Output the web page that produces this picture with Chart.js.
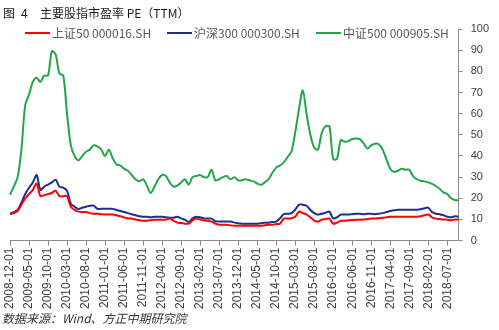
<!DOCTYPE html>
<html>
<head>
<meta charset="utf-8">
<script src="https://cdn.jsdelivr.net/npm/chart.js@4.4.1/dist/chart.umd.min.js"></script>
<style>
  html, body { margin: 0; padding: 0; background: #fff; }
  canvas { display: block; }
</style>
</head>
<body>
<canvas id="peChart" width="499" height="330"></canvas>
<script>
// monthly PE(TTM), 2008-12 .. 2018-10
const startYear = 2008, startMonth = 12, monthCount = 119;

const tickLabels = [
    '2008-12-01', '2009-05-01', '2009-10-01', '2010-03-01', '2010-08-01', '2011-01-01',
    '2011-06-01', '2011-11-01', '2012-04-01', '2012-09-01', '2013-02-01', '2013-07-01',
    '2013-12-01', '2014-05-01', '2014-10-01', '2015-03-01', '2015-08-01', '2016-01-01',
    '2016-06-01', '2016-11-01', '2017-04-01', '2017-09-01', '2018-02-01', '2018-07-01'
];

const sz50 = [
    12.5, 13, 14, 17, 20, 22, 24, 27, 21, 21.5, 22, 22.5, 23.6, 21, 21, 21, 16, 14.5, 13.7, 13.5,
    13.5, 13, 12.7, 12.7, 12.5, 12.3, 12.3, 12.3, 12, 11.5, 11, 10.5, 10.4, 10, 9.6, 9.4, 9.4, 9.6, 9.9, 9.9,
    9.9, 9.9, 10.4, 9.4, 8.5, 8.3, 8, 8, 9.5, 10.4, 10, 9.5, 9.4, 9, 8, 7.5, 7.5, 7.5, 7.2, 7,
    7, 7, 7, 7, 7, 7, 7, 7.3, 7.5, 7.5, 7.8, 8, 10.4, 10.4, 10.6, 11.3, 13.7, 13, 12.3, 11,
    9.5, 9, 9.9, 10.2, 10.4, 8, 8.5, 9.4, 9.4, 9.6, 9.8, 9.9, 9.9, 10, 10.2, 10.4, 10.4, 10.6, 10.8, 11,
    11.3, 11.3, 11.3, 11.3, 11.3, 11.3, 11.3, 11.3, 11.5, 12, 12.3, 11, 10.4, 10.2, 10, 9.9, 9.6, 10, 9.9
];

const hs300 = [
    12.7, 13.5, 14.5, 18, 22, 25, 27.5, 31, 24, 25.5, 26.5, 27.5, 28.8, 25.5, 25, 23.5, 17.5, 16, 15, 15.5,
    16, 16.5, 16.5, 15, 15, 15, 15, 15, 14.5, 14, 13.5, 13, 12.5, 12, 11.5, 11.3, 11.3, 11, 11.3, 11.3,
    11.3, 11, 10.8, 10.8, 11.3, 10.5, 9.9, 8.8, 10.5, 11.3, 11, 10.5, 10.4, 10.4, 9.2, 9, 9, 9, 9, 8.5,
    8.2, 8, 8, 8, 8, 8, 8.2, 8.5, 8.5, 8.8, 9, 10.5, 12.5, 12.7, 13, 14.6, 17, 17, 16.5, 14.5,
    13, 12.3, 12.7, 13.2, 13.7, 10.5, 11, 12.3, 12.3, 12.3, 12.5, 12.7, 12.7, 12.5, 12.7, 12.7, 12.5, 12.7, 13, 13.5,
    14, 14.3, 14.6, 14.6, 14.6, 14.6, 14.6, 14.6, 14.8, 15.3, 15.6, 13.5, 12.7, 12.5, 12, 11.3, 11, 11.5, 11.3
];

const zz500 = [
    21.7, 25.5, 30, 43, 64, 69, 75, 77, 75, 78, 78, 89.5, 88, 79, 78, 60, 45, 40, 38, 40,
    42, 43, 45, 44.5, 43, 40, 43, 39, 36, 35.5, 34, 33, 31, 29, 28, 29, 26, 22.5, 25.5, 29,
    31, 30.5, 27.5, 25.5, 26, 27.5, 29, 26.4, 30, 30.5, 31, 30, 30, 33.5, 28.5, 29, 30, 30.5, 29, 30,
    28.5, 28.5, 29, 28.5, 28, 27, 26.4, 27.5, 29, 32, 34.5, 35.5, 37, 39.5, 42, 51, 62, 71, 60, 50,
    44, 43, 51, 54, 54, 38.5, 38.7, 47.5, 46.7, 47, 48, 48.2, 48, 46, 43.5, 45, 45.8, 45.5, 43, 38.5,
    34, 32.5, 33, 34, 33.5, 33.5, 30.5, 29, 28.3, 28, 27.5, 26.8, 25.8, 24.5, 22.8, 22, 20, 19.2, 19
];

const seriesNames = ['上证50 000016.SH', '沪深300 000300.SH', '中证500 000905.SH'];
const seriesColors = ['#ff0000', '#1c2f8f', '#22a64a'];

const titleParts = ['图', '4', '主要股指市盈率 PE（TTM）'];
const sourceText = '数据来源：Wind、方正中期研究院';

// build month labels like 2008-12-01
const months = [];
for (let i = 0; i < monthCount; i++) {
    const m = startMonth - 1 + i;
    const y = startYear + Math.floor(m / 12);
    const mm = String(m % 12 + 1).padStart(2, '0');
    months.push(`${y}-${mm}-01`);
}

const AXIS_GREY = '#8c8c8c';

// title, legend and source note are painted by hand so the plot can sit under the legend
const textPlugin = {
    id: 'textPlugin',
    afterDraw(chart) {
        const ctx = chart.ctx;
        ctx.save();
        ctx.textBaseline = 'middle';

        ctx.fillStyle = '#1a1a1a';
        ctx.font = '12px "Noto Sans CJK SC"';
        ctx.fillText(titleParts[0], 3, 13);
        ctx.fillText(titleParts[1], 21, 13);
        ctx.fillText(titleParts[2], 40, 13);

        // legend
        const legendX = [25, 167, 316];
        ctx.font = '12px "Noto Sans CJK SC"';
        chart.data.datasets.forEach((ds, i) => {
            const x = legendX[i];
            ctx.strokeStyle = ds.borderColor;
            ctx.lineWidth = 2;
            ctx.beginPath();
            ctx.moveTo(x, 33);
            ctx.lineTo(x + 25, 33);
            ctx.stroke();
            ctx.fillStyle = '#595959';
            ctx.fillText(ds.label, x + 27, 33);
        });

        ctx.fillStyle = '#333';
        ctx.font = 'italic 12px "Noto Sans CJK SC"';
        ctx.fillText(sourceText, 2, 318);
        ctx.restore();
    }
};

const ctx = document.getElementById('peChart').getContext('2d');
const peChart = new Chart(ctx, {
    type: 'line',
    data: {
        labels: months,
        datasets: [sz50, hs300, zz500].map((values, i) => ({
            label: seriesNames[i],
            data: values,
            borderColor: seriesColors[i],
            backgroundColor: seriesColors[i],
            borderWidth: 2,
            pointRadius: 0,
            tension: 0.3,
            fill: false
        }))
    },
    options: {
        responsive: false,
        animation: false,
        devicePixelRatio: 1,
        layout: { padding: { left: 10, right: 2, top: 29, bottom: 19 } },
        plugins: {
            legend: { display: false },
            title: { display: false },
            tooltip: { enabled: false }
        },
        scales: {
            x: {
                offset: false,
                border: { color: AXIS_GREY, width: 1 },
                grid: {
                    drawOnChartArea: false,
                    drawTicks: true,
                    tickLength: 5,
                    color: c => tickLabels.includes(months[c.index]) ? AXIS_GREY : 'rgba(0,0,0,0)'
                },
                ticks: {
                    autoSkip: false,
                    minRotation: 90,
                    maxRotation: 90,
                    padding: 2,
                    color: '#404040',
                    font: { family: 'Liberation Sans', size: 12 },
                    callback: function(val, idx) {
                        const label = months[idx];
                        return tickLabels.includes(label) ? label : '';
                    }
                }
            },
            y: {
                position: 'right',
                min: 0,
                max: 100,
                border: { color: AXIS_GREY, width: 1 },
                grid: { drawOnChartArea: false, drawTicks: true, tickLength: 4, color: AXIS_GREY },
                ticks: {
                    stepSize: 10,
                    padding: 8,
                    color: '#404040',
                    font: { family: 'Liberation Sans', size: 11 }
                }
            }
        }
    },
    plugins: [textPlugin]
});
</script>
</body>
</html>
